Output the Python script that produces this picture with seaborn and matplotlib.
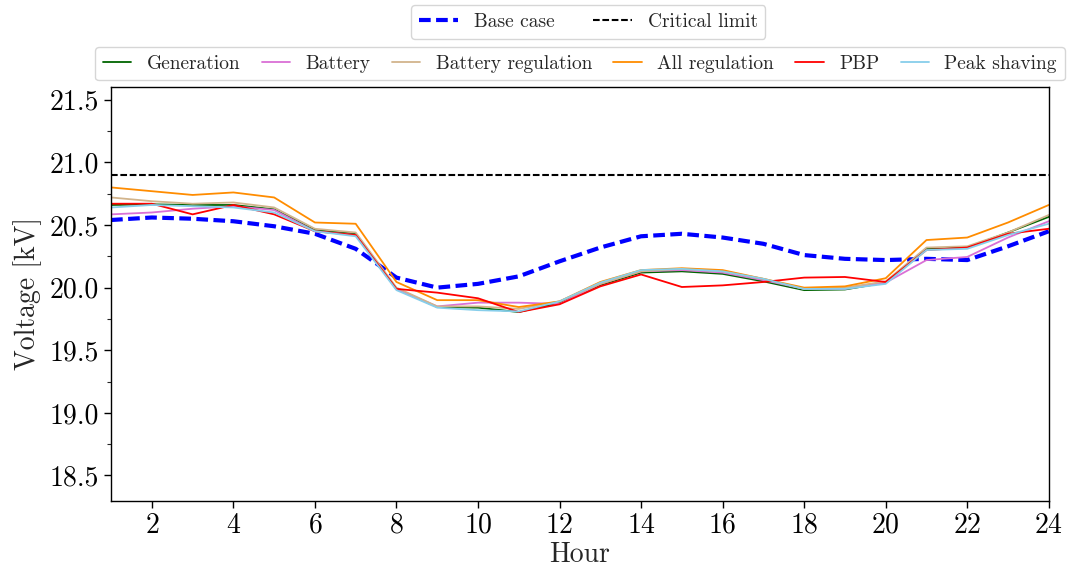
import numpy as np
import pandas as pd
import matplotlib
matplotlib.use("Agg")
import matplotlib.pyplot as plt
from matplotlib.ticker import MultipleLocator
import seaborn as sns

hours = list(range(1, 25))

base_case = [20.54, 20.56, 20.55, 20.53, 20.49, 20.43, 20.31, 20.08, 20.00, 20.03, 20.09, 20.21,
             20.32, 20.41, 20.43, 20.40, 20.35, 20.26, 20.23, 20.22, 20.23, 20.22, 20.33, 20.45]
generation = [20.66, 20.665, 20.66, 20.66, 20.625, 20.46, 20.43, 19.99, 19.845, 19.84, 19.805, 19.88,
              20.02, 20.12, 20.13, 20.11, 20.05, 19.98, 19.985, 20.04, 20.31, 20.32, 20.44, 20.565]
battery = [20.585, 20.60, 20.63, 20.65, 20.62, 20.45, 20.42, 19.99, 19.85, 19.88, 19.88, 19.87,
           20.03, 20.13, 20.14, 20.12, 20.06, 19.99, 19.99, 20.04, 20.22, 20.245, 20.40, 20.53]
battery_regulation = [20.72, 20.69, 20.67, 20.68, 20.64, 20.47, 20.44, 20.00, 19.85, 19.85, 19.83, 19.89,
                      20.03, 20.13, 20.15, 20.13, 20.07, 19.99, 20.00, 20.05, 20.32, 20.33, 20.44, 20.58]
all_regulation = [20.80, 20.77, 20.74, 20.76, 20.72, 20.52, 20.51, 20.045, 19.90, 19.90, 19.845, 19.89,
                  20.045, 20.14, 20.155, 20.14, 20.07, 20.00, 20.01, 20.075, 20.38, 20.40, 20.52, 20.66]
pbp = [20.67, 20.67, 20.585, 20.66, 20.585, 20.45, 20.42, 19.99, 19.96, 19.915, 19.805, 19.867,
       20.01, 20.105, 20.005, 20.018, 20.045, 20.08, 20.085, 20.045, 20.30, 20.32, 20.43, 20.47]
peak_shaving = [20.64, 20.66, 20.65, 20.64, 20.60, 20.45, 20.41, 19.98, 19.84, 19.82, 19.81, 19.89,
                20.04, 20.14, 20.15, 20.13, 20.07, 19.99, 19.99, 20.03, 20.30, 20.31, 20.42, 20.51]
critical_limit = 20.9

series_names = ["Generation", "Battery", "Battery regulation", "All regulation", "PBP", "Peak shaving"]
series_values = [generation, battery, battery_regulation, all_regulation, pbp, peak_shaving]
series_colors = ["darkgreen", "orchid", "tan", "darkorange", "red", "skyblue"]

sns.set_theme(style="ticks")
plt.rcParams["font.family"] = ["cmr10", "DejaVu Serif"]
plt.rcParams["mathtext.fontset"] = "cm"
plt.rcParams["axes.formatter.use_mathtext"] = True
plt.rcParams["axes.unicode_minus"] = False

fig = plt.figure(figsize=(10.68, 5.74), dpi=100)
ax = fig.add_axes([0.104, 0.128, 0.878, 0.720])

base_df = pd.DataFrame({"Hour": hours, "Voltage": base_case})
sns.lineplot(data=base_df, x="Hour", y="Voltage", ax=ax, color="blue", lw=3,
             dashes=False, label="Base case")
ax.get_lines()[-1].set_dashes((2.8, 1.3))
crit = ax.axhline(critical_limit, color="black", lw=1.5, label="Critical limit")
crit.set_dashes((3.2, 1.3))

for name, vals, col in zip(series_names, series_values, series_colors):
    df = pd.DataFrame({"Hour": hours, "Voltage": vals})
    sns.lineplot(data=df, x="Hour", y="Voltage", ax=ax, color=col, lw=1.3, label=name)

ax.set_xlim(1, 24)
ax.set_ylim(18.3, 21.6)
ax.set_xticks(list(range(2, 25, 2)))
ax.yaxis.set_major_locator(MultipleLocator(0.5))
ax.yaxis.set_minor_locator(MultipleLocator(0.25))
ax.yaxis.set_major_formatter(matplotlib.ticker.FormatStrFormatter("%.1f"))
ax.tick_params(axis="both", labelsize=20, direction="out", length=5, width=1, colors="black")
ax.tick_params(axis="y", which="minor", length=3, width=0.8)
for sp in ax.spines.values():
    sp.set_visible(True)
    sp.set_color("black")
    sp.set_linewidth(1.0)

ax.set_xlabel("Hour", fontsize=20, labelpad=2)
ax.set_ylabel("Voltage [kV]", fontsize=20, labelpad=6)

handles, labels = ax.get_legend_handles_labels()
h_map = dict(zip(labels, handles))
if ax.get_legend() is not None:
    ax.get_legend().remove()

leg1 = ax.legend([h_map["Base case"], h_map["Critical limit"]], ["Base case", "Critical limit"],
                 loc="lower center", bbox_to_anchor=(0.509, 1.094), ncol=2, fontsize=14,
                 frameon=True, handlelength=2.0, handletextpad=0.8, columnspacing=2.0)
ax.add_artist(leg1)
ax.legend([h_map[n] for n in series_names], series_names,
          loc="lower center", bbox_to_anchor=(0.5, 0.993), ncol=6, fontsize=14,
          frameon=True, handlelength=1.45, handletextpad=0.8, columnspacing=1.1)

fig.savefig("out.png", dpi=100)
